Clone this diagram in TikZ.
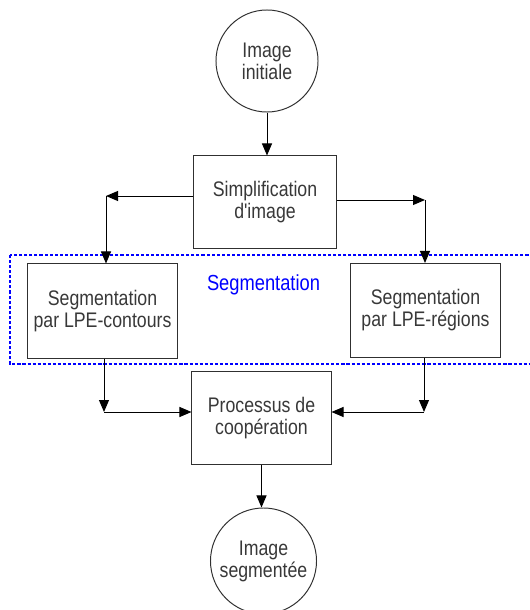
\documentclass[tikz,border=0pt]{standalone}
\usepackage{fontspec}
\setmainfont[FakeStretch=0.84, Ligatures=TeXOff]{Liberation Sans}
\usetikzlibrary{arrows.meta}

\definecolor{textegris}{HTML}{383838}
\definecolor{traitgris}{HTML}{303030}

\begin{document}
\begin{tikzpicture}[x=0.025cm, y=-0.025cm,
    etape/.style={draw=traitgris, line width=0.7pt, minimum width=3.55cm,
        minimum height=2.3cm, align=center, text=textegris,
        font=\fontsize{15}{15.6}\selectfont},
    disque/.style={etape, circle, minimum size=2.55cm, inner sep=0pt},
    fleche/.style={draw=black, line width=0.7pt,
        -{Triangle[length=0.3cm, width=0.25cm]}},
    zone/.style={draw=blue, line width=1.2pt, dash pattern=on 2.2pt off 1.4pt}]
    \clip (0,0) rectangle (530,610);

    % etapes
    \node[disque] (init) at (267,61) {Image\\initiale};
    \node[etape] (simp) at (265,202) {Simplification\\d'image};
    \node[etape, minimum width=3.725cm, minimum height=2.35cm] (segc) at (102.5,311)
        {Segmentation\\par LPE-contours};
    \node[etape, minimum width=3.725cm, minimum height=2.35cm] (segr) at (425.5,310.5)
        {Segmentation\\par LPE-régions};
    \node[etape, minimum width=3.475cm] (coop) at (261.5,418)
        {Processus de\\coopération};
    \node[disque, minimum size=2.65cm] (fin) at (263.5,561) {Image\\segmentée};

    % bloc segmentation
    \draw[zone] (10,255) rectangle (545,364);
    \node[text=blue, font=\fontsize{15.5}{15.6}\selectfont] (titre) at (263.5,285) {Segmentation};

    % coins
    \coordinate (cg) at (106,196);
    \coordinate (cd) at (425,200);
    \coordinate (bg) at (104,412);
    \coordinate (bd) at (424,412);

    % liaisons
    \draw[fleche] (init) -- (init |- simp.north);
    \draw[fleche] (simp.west |- cg) -- (cg);
    \draw[fleche] (cg) -- (cg |- segc.north);
    \draw[fleche] (simp.east |- cd) -- (cd);
    \draw[fleche] (cd) -- (cd |- segr.north);
    \draw[fleche] (bg |- segc.south) -- (bg);
    \draw[fleche] (bg) -- (bg -| coop.west);
    \draw[fleche] (bd |- segr.south) -- (bd);
    \draw[fleche] (bd) -- (bd -| coop.east);
    \draw[fleche] (coop.south) -- (coop.south |- fin.north);
\end{tikzpicture}
\end{document}
